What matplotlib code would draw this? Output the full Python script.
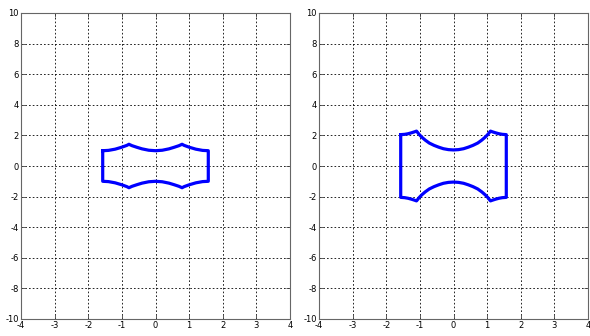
import matplotlib.pyplot as plt

plt.rcParams['axes.unicode_minus'] = False

# upper half of each outline, lower half is its mirror
left_x = [-1.57, -1.40, -1.20, -1.00, -0.85, -0.79, -0.70, -0.55, -0.40, -0.20, 0.00,
          0.20, 0.40, 0.55, 0.70, 0.79, 0.85, 1.00, 1.20, 1.40, 1.57]
left_y = [1.00, 1.02, 1.10, 1.23, 1.35, 1.42, 1.33, 1.22, 1.12, 1.03, 1.00,
          1.03, 1.12, 1.22, 1.33, 1.42, 1.35, 1.23, 1.10, 1.02, 1.00]

right_x = [-1.57, -1.45, -1.35, -1.25, -1.15, -1.10, -1.07, -1.02, -0.94, -0.84, -0.72,
           -0.58, -0.44, -0.30, -0.15, 0.00, 0.15, 0.30, 0.44, 0.58, 0.72, 0.84, 0.94,
           1.02, 1.07, 1.10, 1.15, 1.25, 1.35, 1.45, 1.57]
right_y = [2.05, 2.07, 2.11, 2.17, 2.24, 2.28, 2.20, 2.06, 1.88, 1.69, 1.50,
           1.35, 1.23, 1.13, 1.07, 1.05, 1.07, 1.13, 1.23, 1.35, 1.50, 1.69, 1.88,
           2.06, 2.20, 2.28, 2.24, 2.17, 2.11, 2.07, 2.05]

x_ticks = [-4, -3, -2, -1, 0, 1, 2, 3, 4]
y_ticks = [-10, -8, -6, -4, -2, 0, 2, 4, 6, 8, 10]


def outline(xs, ys):
    # top left->right, then bottom right->left, closed
    x = list(xs) + list(reversed(xs)) + [xs[0]]
    y = list(ys) + [-v for v in reversed(ys)] + [ys[0]]
    return x, y


fig = plt.figure(figsize=(5.9, 3.36), dpi=100)
ax1 = fig.add_axes([21 / 590, 17 / 336, 269 / 590, 306 / 336])
ax2 = fig.add_axes([319 / 590, 17 / 336, 269 / 590, 306 / 336])

for ax, (xs, ys) in zip([ax1, ax2], [(left_x, left_y), (right_x, right_y)]):
    x, y = outline(xs, ys)
    ax.plot(x, y, color='#0000ff', lw=2.3, solid_joinstyle='round')
    ax.set_xlim(-4, 4)
    ax.set_ylim(-10, 10)
    ax.set_xticks(x_ticks)
    ax.set_yticks(y_ticks)
    ax.grid(True, color='black', linestyle=(0, (2, 2.5)), linewidth=0.6)
    ax.tick_params(direction='in', length=3, width=0.6, labelsize=6, pad=1.5,
                   colors='0.25', labelcolor='black', top=True, right=True)
    for s in ax.spines.values():
        s.set_color('0.4')
        s.set_linewidth(0.8)

fig.savefig('out.png', dpi=100)
